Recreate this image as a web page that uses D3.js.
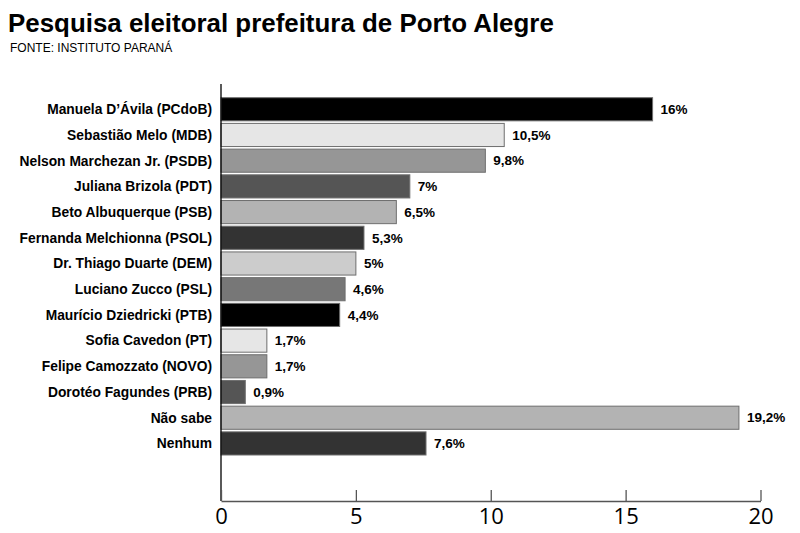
<!DOCTYPE html>
<html><head><meta charset="utf-8">
<script src="https://cdn.jsdelivr.net/npm/d3@7"></script>
<style>body{margin:0;background:#fff}svg{display:block}</style>
</head><body>
<script>
const categories = ["Manuela D’Ávila (PCdoB)","Sebastião Melo (MDB)","Nelson Marchezan Jr. (PSDB)","Juliana Brizola (PDT)","Beto Albuquerque (PSB)","Fernanda Melchionna (PSOL)","Dr. Thiago Duarte (DEM)","Luciano Zucco (PSL)","Maurício Dziedricki (PTB)","Sofia Cavedon (PT)","Felipe Camozzato (NOVO)","Dorotéo Fagundes (PRB)","Não sabe","Nenhum"];
const values = [16,10.5,9.8,7,6.5,5.3,5,4.6,4.4,1.7,1.7,0.9,19.2,7.6];
const valueLabels = ["16%","10,5%","9,8%","7%","6,5%","5,3%","5%","4,6%","4,4%","1,7%","1,7%","0,9%","19,2%","7,6%"];
const barColors = ["#000000","#e6e6e6","#969696","#555555","#b3b3b3","#333333","#cccccc","#777777","#000000","#e6e6e6","#969696","#555555","#b3b3b3","#333333"];
const xTicks = [0,5,10,15,20];

const W=800,H=533;
const svg=d3.select("body").append("svg").attr("width",W).attr("height",H);
svg.append("text").attr("x",8).attr("y",32).attr("font-family","Liberation Sans, Arial, sans-serif").attr("font-weight","bold").attr("font-size",25.9).attr("fill","#000").text("Pesquisa eleitoral prefeitura de Porto Alegre");
svg.append("text").attr("x",10).attr("y",52).attr("font-family","Liberation Sans, Arial, sans-serif").attr("font-size",12).attr("fill","#000").text("FONTE: INSTITUTO PARANÁ");

const x=d3.scaleLinear().domain([0,20]).range([221,760.5]);
const y=d3.scaleBand().domain(categories).range([97.7,455]).paddingInner(0.1).paddingOuter(0);

svg.append("g").selectAll("rect").data(categories).join("rect")
  .attr("x",x(0)).attr("y",d=>y(d)).attr("height",y.bandwidth())
  .attr("width",(d,i)=>x(values[i])-x(0))
  .attr("fill",(d,i)=>barColors[i]).attr("stroke","#6e6e6e").attr("stroke-width",1);

svg.append("g").selectAll("text").data(categories).join("text")
  .attr("x",212).attr("y",d=>y(d)+y.bandwidth()/2).attr("dy","0.35em")
  .attr("text-anchor","end").attr("font-family","Liberation Sans, Arial, sans-serif")
  .attr("font-weight","bold").attr("font-size",13.8).attr("fill","#000").text(d=>d);

svg.append("g").selectAll("text").data(categories).join("text")
  .attr("x",(d,i)=>x(values[i])+8).attr("y",d=>y(d)+y.bandwidth()/2).attr("dy","0.35em")
  .attr("font-family","Liberation Sans, Arial, sans-serif")
  .attr("font-weight","bold").attr("font-size",13.5).attr("fill","#000").text((d,i)=>valueLabels[i]);

// left axis line
svg.append("line").attr("x1",x(0)).attr("x2",x(0)).attr("y1",84).attr("y2",501).attr("stroke","#000").attr("stroke-width",1.3);

const ax=svg.append("g").attr("transform","translate(0,501)")
  .call(d3.axisBottom(x).tickValues(xTicks).tickSize(-11).tickSizeOuter(0).tickPadding(18));
ax.select(".domain").attr("stroke","#555").attr("stroke-width",1.3);
ax.selectAll(".tick line").attr("stroke","#555").attr("stroke-width",1.3);
ax.selectAll(".tick text").attr("font-family","Open Sans, sans-serif").attr("font-size",22).attr("fill","#000").attr("dy","0.71em").attr("y",7);
</script>
</body></html>
